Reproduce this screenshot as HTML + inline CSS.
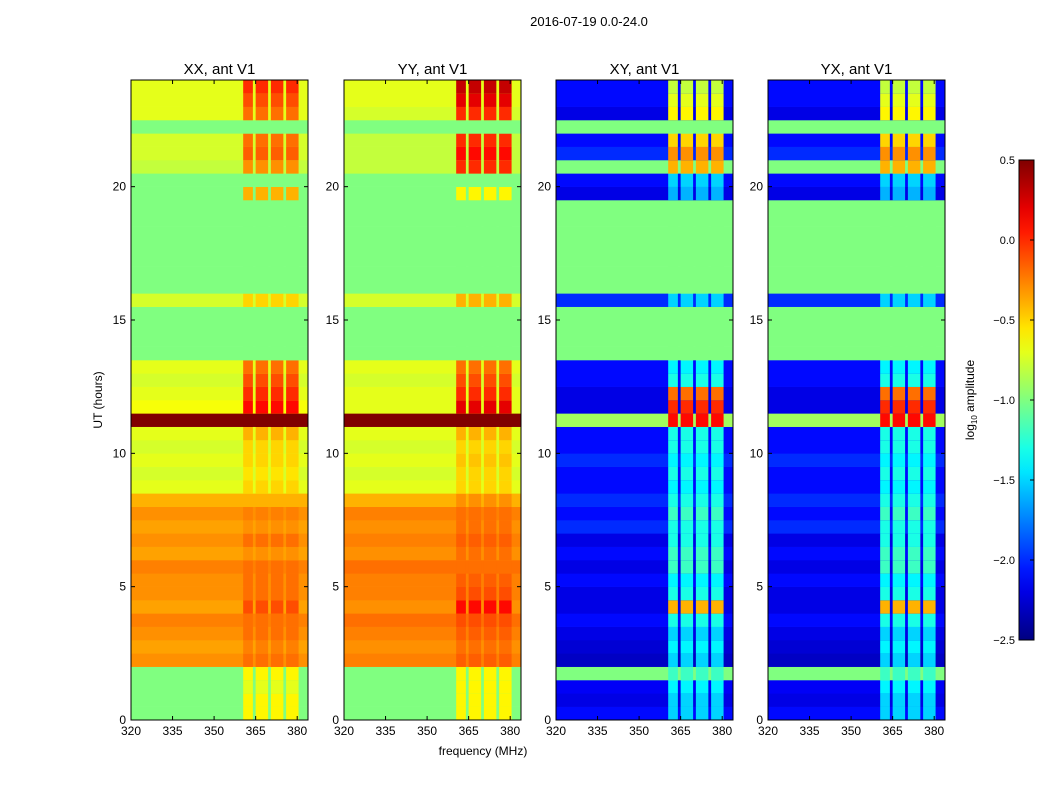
<!DOCTYPE html>
<html><head><meta charset="utf-8"><style>
body{margin:0;background:#fff;}
svg text{font-family:"Liberation Sans",sans-serif;fill:#000;}
</style></head><body>
<svg id="fig" width="1050" height="800" viewBox="0 0 1050 800" xmlns="http://www.w3.org/2000/svg">
<text x="589" y="26" font-size="13" text-anchor="middle">2016-07-19 0.0-24.0</text>
<text x="483" y="755" font-size="12" text-anchor="middle">frequency (MHz)</text>
<text transform="translate(102,400) rotate(-90)" font-size="12" text-anchor="middle">UT (hours)</text>
<g id="panels"></g>
<g id="cbar"></g>
</svg>
<script>
// ---- data ----
const panelTitles = ["XX, ant V1","YY, ant V1","XY, ant V1","YX, ant V1"];
const xTicks = [320,335,350,365,380];
const yTicks = [0,5,10,15,20];
const cbarTicks = ["0.5","0.0","\u22120.5","\u22121.0","\u22121.5","\u22122.0","\u22122.5"];
const cbarValues = [0.5,0,-0.5,-1,-1.5,-2,-2.5];
// rows: 48 half-hour bins from 0 to 24 h
const xxBase = [-1,-1,-1,-1,-0.3,-0.35,-0.3,-0.25,-0.35,-0.3,-0.3,-0.25,-0.35,-0.3,-0.35,-0.3,-0.4,-0.7,-0.75,-0.7,-0.75,-0.7,0.5,-0.65,-0.7,-0.75,-0.7,-1,-1,-1,-1,-0.75,-1,-1,-1,-1,-1,-1,-1,-1,-1,-0.8,-0.75,-0.75,-1,-0.7,-0.7,-0.7];
const xxRfi  = [-0.6,-0.6,-0.7,-0.6,-0.2,-0.25,-0.2,-0.2,-0.1,-0.2,-0.2,-0.2,-0.3,-0.2,-0.3,-0.25,-0.4,-0.5,-0.55,-0.5,-0.5,-0.4,0.5,0.1,0.0,-0.1,-0.2,-1,-1,-1,-1,-0.5,-1,-1,-1,-1,-1,-1,-1,-0.4,-1,-0.3,-0.15,-0.2,-1,-0.2,-0.1,0.0];
const yyBase = [-1,-1,-1,-1,-0.25,-0.3,-0.25,-0.2,-0.3,-0.25,-0.25,-0.2,-0.3,-0.25,-0.3,-0.25,-0.4,-0.7,-0.75,-0.7,-0.75,-0.7,0.5,-0.7,-0.7,-0.75,-0.7,-1,-1,-1,-1,-0.75,-1,-1,-1,-1,-1,-1,-1,-1,-1,-0.8,-0.8,-0.8,-1,-0.75,-0.7,-0.7];
const yyRfi  = [-0.6,-0.6,-0.6,-0.6,-0.15,-0.2,-0.15,-0.1,0.1,-0.1,-0.15,-0.2,-0.2,-0.15,-0.2,-0.2,-0.3,-0.5,-0.5,-0.45,-0.5,-0.4,0.5,0.2,0.0,-0.1,-0.2,-1,-1,-1,-1,-0.4,-1,-1,-1,-1,-1,-1,-1,-0.6,-1,0.0,0.1,0.0,-1,0.0,0.2,0.3];
const xyBase = [-2.1,-2.2,-2.15,-1.0,-2.3,-2.25,-2.2,-2.1,-2.2,-2.2,-2.1,-2.2,-2.1,-2.2,-2.0,-2.1,-2.0,-2.1,-2.1,-2.0,-2.1,-2.1,-0.9,-2.2,-2.2,-2.1,-2.1,-1,-1,-1,-1,-2.0,-1,-1,-1,-1,-1,-1,-1,-2.2,-2.1,-1.0,-2.0,-2.1,-1,-2.2,-2.1,-2.1];
const xyRfi  = [-1.5,-1.5,-1.4,-1.2,-1.5,-1.4,-1.5,-1.3,-0.4,-1.3,-1.4,-1.2,-1.2,-1.3,-1.3,-1.2,-1.3,-1.4,-1.3,-1.4,-1.3,-1.3,0.1,0.0,-0.2,-1.3,-1.4,-1,-1,-1,-1,-1.5,-1,-1,-1,-1,-1,-1,-1,-1.6,-1.5,-0.4,-0.3,-0.5,-1,-0.6,-0.7,-0.8];
const yxBase = xyBase.slice();
const yxRfi  = xyRfi.slice();
const panelBase = [xxBase,yyBase,xyBase,yxBase];
const panelRfi = [xxRfi,yyRfi,xyRfi,yxRfi];
// RFI frequency blocks (MHz)
const rfiBlocks = [[360.5,364],[365,369.5],[370.5,375],[376,380.5]];

// ---- layout ----
const panelX = [131,344,556,768], PW=177, PT=80, PB=720;
const fMin=320, fMax=383.9, tMin=0, tMax=24;
const NS="http://www.w3.org/2000/svg";
function xs(p,f){return panelX[p]+(f-fMin)/(fMax-fMin)*PW;}
function ys(t){return PB-(t-tMin)/(tMax-tMin)*(PB-PT);}
function jet(v){
  let x=(v+2.5)/3; x=Math.max(0,Math.min(1,x));
  const c=t=>Math.round(255*Math.max(0,Math.min(1,t)));
  const r=c(Math.min(4*x-1.5,-4*x+4.5)),g=c(Math.min(4*x-0.5,-4*x+3.5)),b=c(Math.min(4*x+0.5,-4*x+2.5));
  return `rgb(${r},${g},${b})`;
}
function mk(tag,attrs,parent){const e=document.createElementNS(NS,tag);for(const k in attrs)e.setAttribute(k,attrs[k]);parent.appendChild(e);return e;}
const panels=document.getElementById('panels');
for(let p=0;p<4;p++){
  const g=mk('g',{},panels);
  
  
  const base=panelBase[p], rfi=panelRfi[p], n=base.length, dt=(tMax-tMin)/n;
  for(let i=0;i<n;i++){
    const y0=ys(tMin+(i+1)*dt), y1=ys(tMin+i*dt);
    const r=mk('rect',{x:xs(p,fMin),y:y0,width:PW,height:y1-y0+0.3,fill:jet(base[i])},g);
    
    
    for(const b of rfiBlocks){
      const c=mk('rect',{x:xs(p,b[0]),y:y0,width:xs(p,b[1])-xs(p,b[0]),height:y1-y0+0.3,fill:jet(rfi[i])},g);
      
      
    }
  }
  const fr=mk('rect',{x:panelX[p],y:PT,width:PW,height:PB-PT,fill:'none',stroke:'#000','stroke-width':1},g);
  
  
  const tt=mk('text',{x:panelX[p]+PW/2,y:PT-6,'font-size':15,'text-anchor':'middle'},g);
  tt.textContent=panelTitles[p];
  
  
  for(const f of xTicks){
    const x=xs(p,f);
    mk('line',{x1:x,x2:x,y1:PB,y2:PB-4,stroke:'#000'},g);
    mk('line',{x1:x,x2:x,y1:PT,y2:PT+4,stroke:'#000'},g);
    const t=mk('text',{x:x,y:PB+15,'font-size':12,'text-anchor':'middle'},g);
    t.textContent=f;
    
    
  }
  for(const v of yTicks){
    const y=ys(v);
    mk('line',{x1:panelX[p],x2:panelX[p]+4,y1:y,y2:y,stroke:'#000'},g);
    mk('line',{x1:panelX[p]+PW,x2:panelX[p]+PW-4,y1:y,y2:y,stroke:'#000'},g);
    const t=mk('text',{x:panelX[p]-5,y:y+4,'font-size':12,'text-anchor':'end'},g);
    t.textContent=v;
    
    
  }
}
// colorbar
const cb=document.getElementById('cbar');
const CX=1019,CW=15,CT=160,CB=640;
const defs=mk('defs',{},cb);
const lg=mk('linearGradient',{id:'jetg',x1:0,y1:1,x2:0,y2:0},defs);
for(let k=0;k<=20;k++){mk('stop',{offset:k/20,'stop-color':jet(-2.5+3*k/20)},lg);}
const cr=mk('rect',{x:CX,y:CT,width:CW,height:CB-CT,fill:'url(#jetg)',stroke:'#000'},cb);


cbarValues.forEach((v,k)=>{
  const y=CB-(v+2.5)/3*(CB-CT);
  mk('line',{x1:CX+CW-4,x2:CX+CW,y1:y,y2:y,stroke:'#000'},cb);
  const t=mk('text',{x:CX-4,y:y+4,'font-size':11,'text-anchor':'end'},cb);
  t.textContent=cbarTicks[k];
  
  
});
const cl=mk('text',{transform:'translate(974,400) rotate(-90)','font-size':12,'text-anchor':'middle'},cb);
cl.innerHTML='log<tspan font-size="8" dy="3">10</tspan><tspan dy="-3"> amplitude</tspan>';


</script>
</body></html>
